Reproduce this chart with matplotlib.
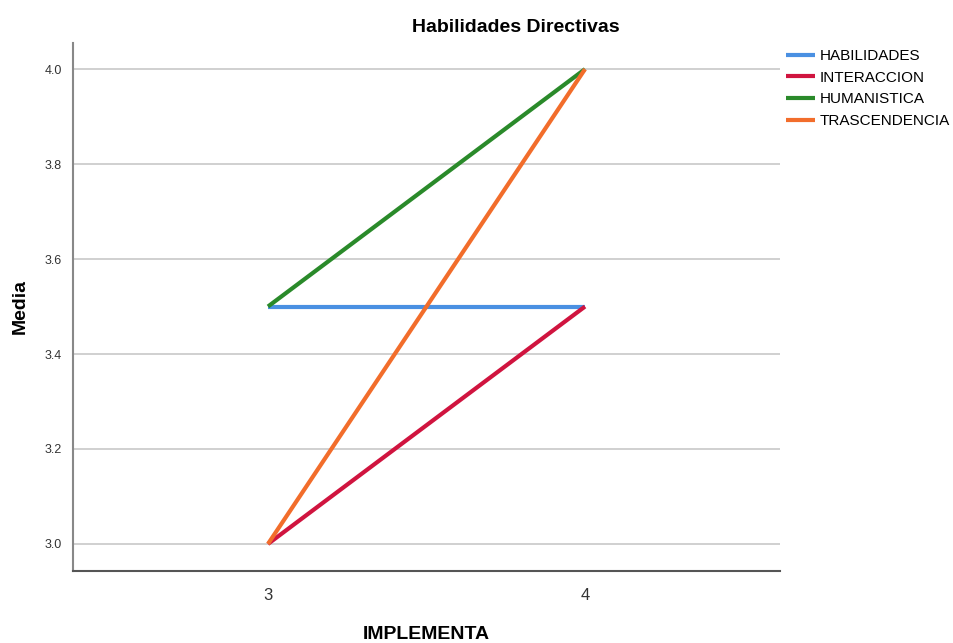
import matplotlib
matplotlib.use("Agg")
import matplotlib.pyplot as plt

plt.rcParams['font.family'] = ['Liberation Sans', 'DejaVu Sans']

# grupos de IMPLEMENTA y medias por dimension
implementa = [3, 4]
habilidades = [3.5, 3.5]
interaccion = [3.0, 3.5]
humanistica = [3.5, 4.0]
trascendencia = [3.0, 4.0]

series = [
    ('HABILIDADES', habilidades, '#4a90e2'),
    ('INTERACCION', interaccion, '#d0143f'),
    ('HUMANISTICA', humanistica, '#2a8a2a'),
    ('TRASCENDENCIA', trascendencia, '#f26d2b'),
]

fig = plt.figure(figsize=(9.54, 6.43), dpi=100)
ax = fig.add_axes([73 / 954, 72 / 643, 707 / 954, 528 / 643])

for name, vals, col in series:
    ax.plot(implementa, vals, color=col, linewidth=3, label=name, solid_capstyle='butt')

ax.set_xlim(2.385, 4.615)
ax.set_ylim(2.943, 4.055)
ax.set_xticks(implementa)
ax.set_yticks([3.0, 3.2, 3.4, 3.6, 3.8, 4.0])
ax.set_yticklabels(['3.0', '3.2', '3.4', '3.6', '3.8', '4.0'])
ax.tick_params(axis='y', length=0, labelsize=9, colors='#333333', pad=8)
ax.tick_params(axis='x', length=0, labelsize=12, colors='#333333', pad=12)
ax.grid(axis='y', color='#c8c8c8', linewidth=1.2)
ax.set_axisbelow(True)
for s in ['top', 'right']:
    ax.spines[s].set_visible(False)
ax.spines['left'].set_color('#888888')
ax.spines['bottom'].set_color('#555555')
ax.spines['left'].set_linewidth(1.5)
ax.spines['bottom'].set_linewidth(1.5)

fig.text(516 / 954, 1 - 27 / 643, 'Habilidades Directivas', fontsize=14, fontweight='bold',
         ha='center', va='center')
ax.set_xlabel('IMPLEMENTA', fontsize=14, fontweight='bold', labelpad=17)
ax.set_ylabel('Media', fontsize=14, fontweight='bold', labelpad=11)

ax.legend(loc='upper left', bbox_to_anchor=(1.0, 1.0), frameon=False, fontsize=11,
          handlelength=1.9, handletextpad=0.3, labelspacing=0.5, borderaxespad=0.0,
          borderpad=0.4)

fig.savefig('out.png', dpi=100)
